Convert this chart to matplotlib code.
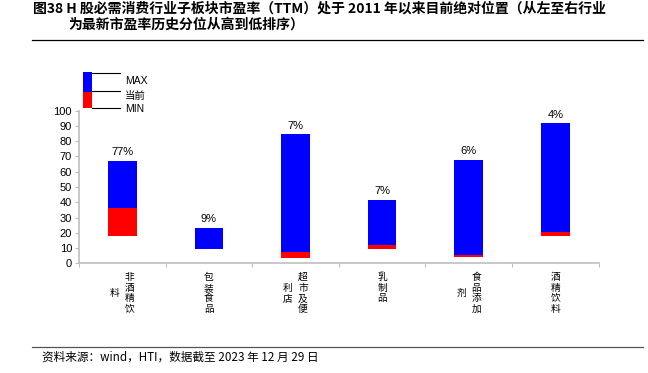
import matplotlib
matplotlib.use("Agg")
import matplotlib.pyplot as plt
from matplotlib.patches import Rectangle
from matplotlib.lines import Line2D

plt.rcParams['font.family'] = ['Liberation Sans', 'Noto Sans CJK SC', 'DejaVu Sans']

# data
industries = ["非酒精饮料", "包装食品", "超市及便利店", "乳制品", "食品添加剂", "酒精饮料"]
pe_max = [67.1, 23.4, 84.7, 41.7, 68.0, 91.7]
pe_now = [36.2, 9.6, 7.7, 12.3, 5.5, 20.2]
pe_min = [17.8, 9.5, 3.5, 9.2, 4.2, 17.8]
pct_labels = ["77%", "9%", "7%", "7%", "6%", "4%"]

W, H = 648, 373
fig = plt.figure(figsize=(W / 100, H / 100), dpi=100)


def fx(px):
    return px / W


def fy(py):
    return 1 - py / H


ax = fig.add_axes([fx(79), fy(263.3), fx(598.7) - fx(79), fy(110.7) - fy(263.3)])

xs = [i + 0.5 for i in range(len(industries))]
red_h = [n - m for n, m in zip(pe_now, pe_min)]
blue_h = [mx - n for mx, n in zip(pe_max, pe_now)]
ax.bar(xs, red_h, bottom=pe_min, width=0.33, color="#FF0000", linewidth=0)
ax.bar(xs, blue_h, bottom=pe_now, width=0.33, color="#0000FF", linewidth=0)

for x, top, lab in zip(xs, pe_max, pct_labels):
    ax.annotate(lab, (x, top), xytext=(0, 2.5), textcoords="offset points",
                ha="center", va="bottom", fontsize=8)

ax.set_xlim(0, len(industries))
ax.set_ylim(0, 100)
ax.set_yticks(range(0, 101, 10))
ax.set_xticks(range(len(industries) + 1))
ax.set_xticklabels([])
ax.tick_params(axis="y", labelsize=8, length=3, color="#BFBFBF", pad=2)
ax.tick_params(axis="x", length=3, color="#BFBFBF")
for s in ["top", "right"]:
    ax.spines[s].set_visible(False)
for s in ["left", "bottom"]:
    ax.spines[s].set_color("#BFBFBF")
    ax.spines[s].set_linewidth(1.2)

# vertical category labels, 4 chars per column, columns right to left
step = 10.6 * 0.72  # px -> pt
for x, name in zip(xs, industries):
    cols = [name[i:i + 4] for i in range(0, len(name), 4)]
    ncol = len(cols)
    first_center = -6.5 - (len(cols[0]) - 1) * step / 2 - 3.5
    for c, chars in enumerate(cols):
        dx = ((ncol - 1) / 2 - c) * 10.8
        if c == 0:
            y0 = -10.0
        else:
            y0 = first_center + (len(chars) - 1) * step / 2
        for r, ch in enumerate(chars):
            ax.annotate(ch, (x, 0), xytext=(dx, y0 - r * step), textcoords="offset points",
                        ha="center", va="center", fontsize=7, family="Noto Sans CJK SC",
                        annotation_clip=False)

# custom legend
fig.add_artist(Rectangle((fx(83.3), fy(91.7)), fx(91.7) - fx(83.3), fy(72.3) - fy(91.7),
                         transform=fig.transFigure, color="#0000FF", lw=0))
fig.add_artist(Rectangle((fx(83.3), fy(108.3)), fx(91.7) - fx(83.3), fy(91.7) - fy(108.3),
                         transform=fig.transFigure, color="#FF0000", lw=0))
for ly in [73.0, 91.0, 108.0]:
    fig.add_artist(Line2D([fx(91.7), fx(120)], [fy(ly), fy(ly)], transform=fig.transFigure,
                          color="black", lw=0.8))
for lab, ly in zip(["MAX", "当前", "MIN"], [81, 95.5, 109.5]):
    fig.text(fx(125), fy(ly), lab, fontsize=7.5, va="center", ha="left")

# title and source
fig.text(fx(33), fy(9), "图38 H 股必需消费行业子板块市盈率（TTM）处于 2011 年以来目前绝对位置（从左至右行业",
         fontsize=10, fontweight="bold", va="center", ha="left",
         family=["Noto Sans CJK SC", "DejaVu Sans"])
fig.text(fx(68), fy(25), "为最新市盈率历史分位从高到低排序）",
         fontsize=10, fontweight="bold", va="center", ha="left",
         family=["Noto Sans CJK SC", "DejaVu Sans"])
fig.add_artist(Line2D([fx(32), fx(643)], [fy(40), fy(40)], transform=fig.transFigure,
                      color="black", lw=0.9))
fig.add_artist(Line2D([fx(32), fx(643)], [fy(347), fy(347)], transform=fig.transFigure,
                      color="#555555", lw=0.9))
fig.text(fx(42), fy(357.5), "资料来源：wind，HTI，数据截至 2023 年 12 月 29 日",
         fontsize=8.4, va="center", ha="left", family=["Noto Sans CJK SC", "DejaVu Sans"])

fig.savefig("out.png", dpi=100)
